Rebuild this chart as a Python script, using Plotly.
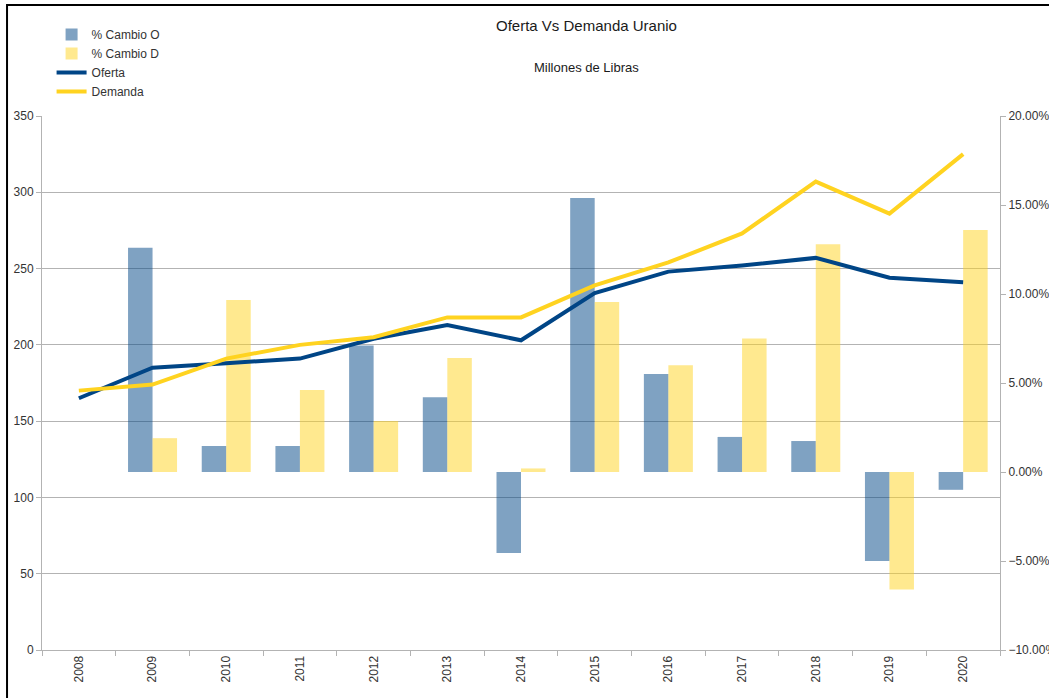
import plotly.graph_objects as go

years = ["2008", "2009", "2010", "2011", "2012", "2013", "2014", "2015", "2016", "2017", "2018", "2019", "2020"]
oferta = [165, 185, 188, 191, 204, 213, 203, 234, 248, 252, 257, 244, 241]
demanda = [170, 174, 191, 200, 205, 218, 218, 239, 254, 273, 307, 286, 325]
cambio_o = [None, 0.126, 0.0146, 0.0146, 0.071, 0.042, -0.0455, 0.154, 0.055, 0.0197, 0.0174, -0.050, -0.010]
cambio_d = [None, 0.019, 0.0966, 0.046, 0.0287, 0.064, 0.002, 0.0955, 0.060, 0.075, 0.128, -0.066, 0.136]

font = "Liberation Sans, Arial, sans-serif"
fig = go.Figure()
fig.add_trace(go.Bar(x=years, y=cambio_o, name="% Cambio O",
                     marker=dict(color="rgba(0,69,134,0.5)", line=dict(width=0)), yaxis="y"))
fig.add_trace(go.Bar(x=years, y=cambio_d, name="% Cambio D",
                     marker=dict(color="rgba(255,211,32,0.5)", line=dict(width=0)), yaxis="y"))
fig.add_trace(go.Scatter(x=years, y=oferta, name="Oferta", mode="lines",
                         line=dict(color="#004586", width=4), yaxis="y2"))
fig.add_trace(go.Scatter(x=years, y=demanda, name="Demanda", mode="lines",
                         line=dict(color="#ffd320", width=4), yaxis="y2"))

axcol = "#b3b3b3"
fig.update_layout(
    width=1049, height=698,
    margin=dict(l=42, r=49, t=116, b=48, autoexpand=False),
    paper_bgcolor="white", plot_bgcolor="white",
    font=dict(family=font, size=12, color="#333333"),
    barmode="group", bargap=0.335, bargroupgap=0,
    showlegend=True,
    legend=dict(x=0.01, y=1.18, xanchor="left", yanchor="top",
                font=dict(size=12, color="#333333"), bgcolor="rgba(0,0,0,0)",
                tracegroupgap=0, itemwidth=30),
    xaxis=dict(type="category", range=[-0.5, 12.5], tickangle=-90,
               showgrid=False, showline=True, linecolor=axcol, linewidth=1,
               ticks="outside", tickson="boundaries", ticklen=5, tickcolor=axcol,
               tickfont=dict(size=12, color="#333333"), zeroline=False, automargin=False),
    yaxis=dict(side="right", range=[-0.10, 0.20], tickvals=[-0.10, -0.05, 0, 0.05, 0.10, 0.15, 0.20],
               tickformat=".2%", showgrid=False, zeroline=False, showline=True,
               linecolor=axcol, ticks="outside", ticklen=5, tickcolor=axcol,
               tickfont=dict(size=12, color="#333333"), automargin=False),
    yaxis2=dict(side="left", overlaying="y", range=[0, 350], dtick=50,
                showgrid=True, gridcolor="#b3b3b3", gridwidth=1, zeroline=False,
                showline=True, linecolor=axcol, ticks="outside", ticklen=5, tickcolor=axcol,
                tickfont=dict(size=12, color="#333333"), automargin=False),
    annotations=[
        dict(text="Oferta Vs Demanda Uranio", x=0.568, y=1.189, xref="paper", yref="paper",
             showarrow=False, font=dict(size=15, color="#1a1a1a")),
        dict(text="Millones de Libras", x=0.568, y=1.109, xref="paper", yref="paper",
             showarrow=False, font=dict(size=13, color="#1a1a1a")),
    ],
    shapes=[dict(type="rect", xref="paper", yref="paper", x0=-0.0365, x1=1.06, y0=-0.1, y1=1.208,
                 line=dict(color="black", width=2), fillcolor="rgba(0,0,0,0)", layer="above")],
)
fig.write_html("out.html", config={"displayModeBar": False},
               post_script="document.body.style.margin='0px';document.body.style.padding='0px';")
